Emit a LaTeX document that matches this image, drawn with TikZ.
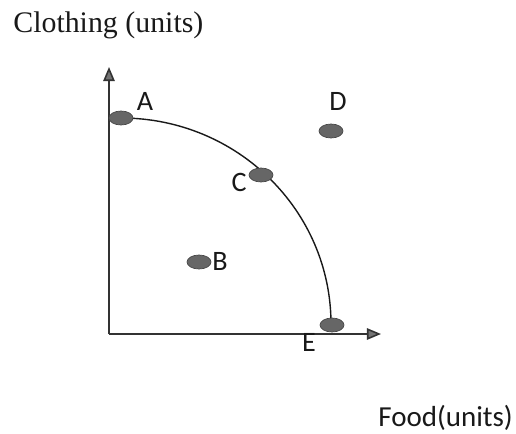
\documentclass[tikz,border=0pt]{standalone}
\usepackage{fontspec}
\setmainfont{Liberation Serif}
\newfontfamily\labelfont{Carlito}
\usepackage{xcolor}
\usepackage{tikz}
\usetikzlibrary{arrows.meta, positioning, shapes.geometric, backgrounds}

\begin{document}
\begin{tikzpicture}[
    x=0.02cm, y=0.02cm,
    dot/.style={
        ellipse,
        draw=black!72,
        fill=black!60,
        minimum width=0.48cm,
        minimum height=0.28cm,
        inner sep=0pt,
        line width=0.4pt
    },
    letter/.style={
        font=\labelfont\fontsize{16}{19}\selectfont,
        text=black!90,
        inner sep=0pt
    },
    axis/.style={
        -{Triangle[length=8pt, width=6.5pt, fill=black!55]},
        draw=black!80,
        line width=0.9pt
    },
    frontier/.style={
        line width=0.8pt,
        draw=black!90
    }
]
\useasboundingbox (0,0) rectangle (516,433);

% Axes
\coordinate (origin) at (109,99);
\coordinate (ytip) at (109,366);
\coordinate (xtip) at (381,99);
\draw[axis] (origin) -- (ytip);
\draw[axis] (origin) -- (xtip);

% Points
\node[dot] (A) at (121,315) {};
\node[dot] (C) at (261,258) {};
\node[dot] (D) at (331,302) {};
\node[dot] (B) at (199,171) {};
\node[dot] (E) at (332,108) {};

% Frontier
\begin{scope}[on background layer]
\draw[frontier] (A.center) arc[start angle=90, end angle=0, x radius=210, y radius=206];
\end{scope}

% Letters
\node[letter] (labA) at ([shift={(24,17)}]A) {A};
\node[letter] (labD) at ([shift={(7,30)}]D) {D};
\node[letter] (labC) at ([shift={(-22,-7)}]C) {C};
\node[letter] (labB) at ([shift={(21,1)}]B) {B};
\node[letter] (labE) at ([shift={(-23,-17)}]E) {E};

% Axis titles
\node[anchor=base west, inner sep=0pt, text=black!90,
      font=\fontsize{17}{20}\selectfont] (ytitle) at (13,400) {Clothing (units)};
\node[anchor=base west, inner sep=0pt, text=black!90,
      font=\labelfont\fontsize{16.5}{20}\selectfont] (xtitle) at (378,7) {Food(units)};

\end{tikzpicture}
\end{document}
